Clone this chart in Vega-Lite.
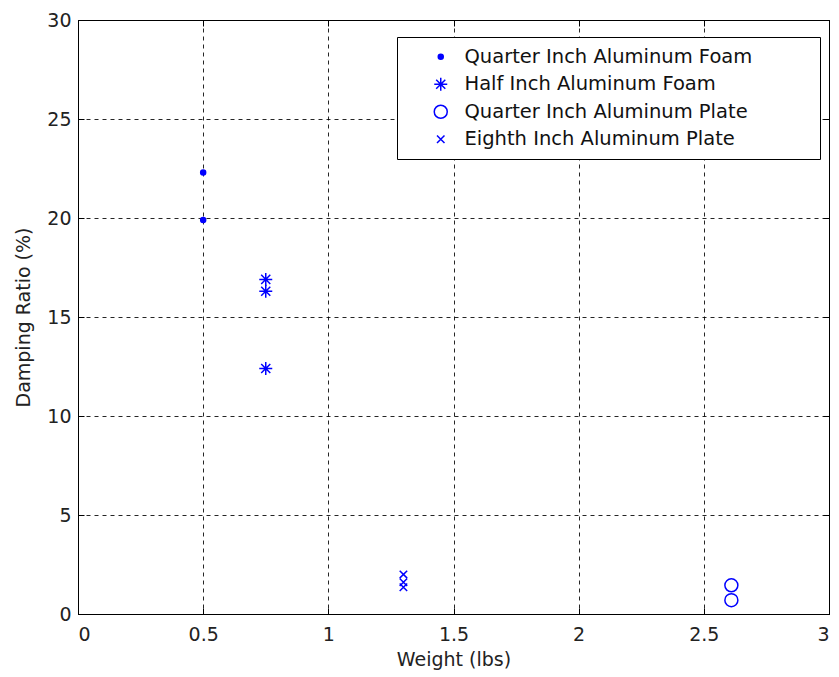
{
  "$schema": "https://vega.github.io/schema/vega-lite/v6.json",
  "width": 751,
  "height": 594,
  "autosize": "none",
  "padding": {"left": 78, "top": 20, "right": 10, "bottom": 63},
  "background": "white",
  "config": {
    "font": "DejaVu Sans",
    "view": {"stroke": "black", "strokeWidth": 1},
    "axis": {
      "gridColor": "black",
      "gridDash": [4, 4],
      "gridOpacity": 0.85,
      "gridWidth": 1,
      "domainColor": "black",
      "tickColor": "black",
      "tickSize": -6,
      "labelFontSize": 19,
      "labelColor": "#222",
      "titleFontSize": 19,
      "titleFontWeight": "normal",
      "titleColor": "#222",
      "labelPadding": 13
    }
  },
  "data": {
    "values": [
      {"series": "Quarter Inch Aluminum Foam", "weight": 0.5, "damping": 22.3},
      {"series": "Quarter Inch Aluminum Foam", "weight": 0.5, "damping": 19.9},
      {"series": "Half Inch Aluminum Foam", "weight": 0.75, "damping": 16.9},
      {"series": "Half Inch Aluminum Foam", "weight": 0.75, "damping": 16.3},
      {"series": "Half Inch Aluminum Foam", "weight": 0.75, "damping": 12.4},
      {"series": "Quarter Inch Aluminum Plate", "weight": 2.61, "damping": 1.45},
      {"series": "Quarter Inch Aluminum Plate", "weight": 2.61, "damping": 0.7},
      {"series": "Eighth Inch Aluminum Plate", "weight": 1.3, "damping": 2.0},
      {"series": "Eighth Inch Aluminum Plate", "weight": 1.3, "damping": 1.6},
      {"series": "Eighth Inch Aluminum Plate", "weight": 1.3, "damping": 1.35}
    ]
  },
  "layer": [
    {
      "mark": {"type": "point", "stroke": "blue", "strokeWidth": 1.5, "opacity": 1},
      "encoding": {
        "x": {
          "field": "weight", "type": "quantitative",
          "scale": {"domain": [0, 3], "nice": false, "zero": false},
          "axis": {"title": "Weight (lbs)", "values": [0, 0.5, 1, 1.5, 2, 2.5, 3], "format": "~g", "grid": true, "labelPadding": 17, "titlePadding": 6}
        },
        "y": {
          "field": "damping", "type": "quantitative",
          "scale": {"domain": [0, 30], "nice": false},
          "axis": {"title": "Damping Ratio (%)", "values": [0, 5, 10, 15, 20, 25, 30], "grid": true, "titlePadding": 13}
        },
        "shape": {
          "field": "series", "type": "nominal",
          "scale": {
            "domain": ["Quarter Inch Aluminum Foam", "Half Inch Aluminum Foam", "Quarter Inch Aluminum Plate", "Eighth Inch Aluminum Plate"],
            "range": ["circle", "M-1,0L1,0M0,-1L0,1M-0.7,-0.7L0.7,0.7M-0.7,0.7L0.7,-0.7", "circle", "M-1,-1L1,1M-1,1L1,-1"]
          },
          "legend": {
            "title": null,
            "orient": "none",
            "legendX": 319,
            "legendY": 17,
            "strokeColor": "black",
            "fillColor": "white",
            "padding": 10,
            "labelFontSize": 19.5,
            "labelColor": "#111",
            "labelLimit": 700,
            "rowPadding": 6.5,
            "symbolOffset": 24,
            "labelOffset": 14,
            "symbolStrokeColor": "blue",
            "symbolStrokeWidth": 1.5,
            "labelExpr": "datum.label + '\u2800\u2800\u2800\u2800'"
          }
        },
        "fill": {
          "field": "series", "type": "nominal",
          "scale": {
            "domain": ["Quarter Inch Aluminum Foam", "Half Inch Aluminum Foam", "Quarter Inch Aluminum Plate", "Eighth Inch Aluminum Plate"],
            "range": ["blue", "transparent", "transparent", "transparent"]
          }
        },
        "size": {
          "field": "series", "type": "nominal",
          "scale": {
            "type": "ordinal",
            "domain": ["Quarter Inch Aluminum Foam", "Half Inch Aluminum Foam", "Quarter Inch Aluminum Plate", "Eighth Inch Aluminum Plate"],
            "range": [25, 169, 169, 56]
          }
        }
      }
    },
    {
      "mark": {"type": "point", "opacity": 0},
      "encoding": {
        "x": {
          "field": "weight", "type": "quantitative",
          "axis": {"orient": "top", "labels": false, "title": null, "grid": false, "values": [0, 0.5, 1, 1.5, 2, 2.5, 3]}
        },
        "y": {
          "field": "damping", "type": "quantitative",
          "axis": {"orient": "right", "labels": false, "title": null, "grid": false, "values": [0, 5, 10, 15, 20, 25, 30]}
        }
      }
    }
  ],
  "resolve": {"axis": {"x": "independent", "y": "independent"}}
}
